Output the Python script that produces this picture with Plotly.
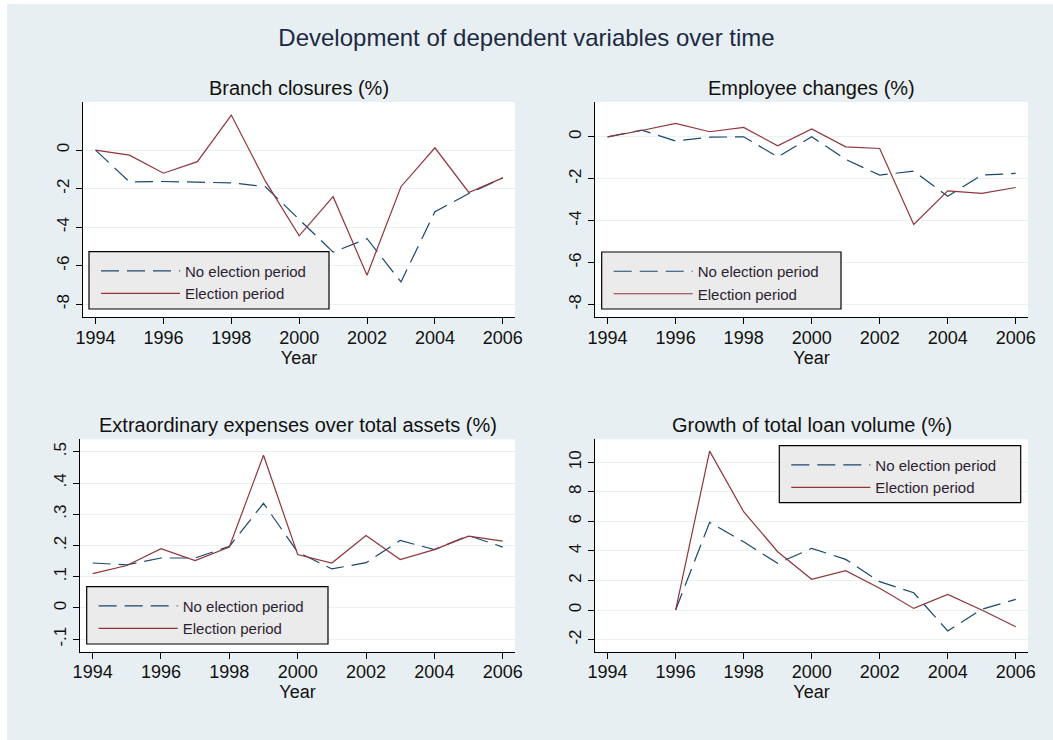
import plotly.graph_objects as go

# ---------------- data ----------------
years = [1994, 1995, 1996, 1997, 1998, 1999, 2000, 2001, 2002, 2003, 2004, 2005, 2006]
x_ticks = [1994, 1996, 1998, 2000, 2002, 2004, 2006]

branch_no = [0, -1.65, -1.63, -1.65, -1.7, -1.9, -3.6, -5.3, -4.6, -6.85, -3.2, -2.25, -1.44]
branch_el = [0, -0.26, -1.2, -0.6, 1.82, -1.6, -4.45, -2.42, -6.5, -1.9, 0.12, -2.2, -1.44]

emp_no = [0, 0.32, -0.2, -0.02, 0, -0.96, 0, -1.08, -1.83, -1.64, -2.84, -1.83, -1.75]
emp_el = [0, 0.3, 0.64, 0.24, 0.45, -0.43, 0.37, -0.48, -0.56, -4.18, -2.58, -2.7, -2.42]

ext_no = [0.144, 0.138, 0.16, 0.16, 0.197, 0.335, 0.179, 0.125, 0.145, 0.216, 0.187, 0.232, 0.195]
ext_el = [0.11, 0.136, 0.19, 0.152, 0.195, 0.489, 0.171, 0.144, 0.232, 0.155, 0.187, 0.23, 0.214]

loan_no = [None, None, 0, 5.94, 4.62, 3.16, 4.18, 3.43, 1.92, 1.17, -1.42, 0.05, 0.72]
loan_el = [None, None, 0, 10.76, 6.66, 3.95, 2.08, 2.66, 1.47, 0.11, 1.06, 0.0, -1.13]

titles = ["Branch closures (%)", "Employee changes (%)",
          "Extraordinary expenses over total assets (%)", "Growth of total loan volume (%)"]
series_names = ["No election period", "Election period"]

y_ticks_1 = [0, -2, -4, -6, -8]
y_ticks_3 = [-0.1, 0, 0.1, 0.2, 0.3, 0.4, 0.5]
y_labels_3 = ["-.1", "0", ".1", ".2", ".3", ".4", ".5"]
y_ticks_4 = [-2, 0, 2, 4, 6, 8, 10]

# ---------------- layout helpers ----------------
W, H = 1053, 740
NAVY = "#1a476f"
MAROON = "#90353b"
BG = "#e8eff2"
FONT = "Liberation Sans, Arial, sans-serif"


def px_x(p):
    return p / W


def px_y(p):
    return 1 - p / H


panels = [
    dict(no=branch_no, el=branch_el, xd=(83, 515), yd=(102, 317), yr=[-8.67, 2.5],
         tv=y_ticks_1, tt=[str(v) for v in y_ticks_1], lg=(89, 329, 251.7, 309)),
    dict(no=emp_no, el=emp_el, xd=(595, 1028), yd=(102, 317), yr=[-8.6, 1.66],
         tv=y_ticks_1, tt=[str(v) for v in y_ticks_1], lg=(601.7, 841, 252, 309)),
    dict(no=ext_no, el=ext_el, xd=(80, 515), yd=(439.3, 651.7), yr=[-0.14, 0.54],
         tv=y_ticks_3, tt=y_labels_3, lg=(86.7, 328, 586.7, 644)),
    dict(no=loan_no, el=loan_el, xd=(595, 1028), yd=(439.3, 651.7), yr=[-2.82, 11.56],
         tv=y_ticks_4, tt=[str(v) for v in y_ticks_4], lg=(779.3, 1020.7, 445.7, 502.7)),
]

fig = go.Figure()
shapes = []
annotations = []
layout = dict()

for i, p in enumerate(panels):
    n = i + 1
    sfx = "" if n == 1 else str(n)
    lgname = "legend" if n == 1 else f"legend{n}"
    xa, ya = f"x{sfx}", f"y{sfx}"
    fig.add_trace(go.Scatter(x=years, y=p["no"], mode="lines", name=series_names[0],
                             line=dict(color=NAVY, width=1.2, dash="18px,8px"),
                             xaxis=xa, yaxis=ya, legend=lgname, connectgaps=False))
    fig.add_trace(go.Scatter(x=years, y=p["el"], mode="lines", name=series_names[1],
                             line=dict(color=MAROON, width=1.2),
                             xaxis=xa, yaxis=ya, legend=lgname, connectgaps=False))

    layout[f"xaxis{sfx}"] = dict(
        domain=[px_x(p["xd"][0]), px_x(p["xd"][1])], anchor=ya,
        range=[1993.63, 2006.36], tickvals=x_ticks, ticks="outside", ticklen=6,
        tickcolor="black", showline=True, linecolor="black", linewidth=1,
        showgrid=False, zeroline=False, fixedrange=True, ticklabelstandoff=-2,
        automargin=False,
        tickfont=dict(size=18, color="#111111", family=FONT),
        title=dict(text="Year", font=dict(size=18, color="#111111", family=FONT), standoff=0),
    )
    layout[f"yaxis{sfx}"] = dict(
        domain=[px_y(p["yd"][1]), px_y(p["yd"][0])], anchor=xa,
        range=p["yr"], tickvals=p["tv"], ticktext=p["tt"], tickangle=-90,
        ticks="outside", ticklen=6, tickcolor="black", showline=True,
        linecolor="black", linewidth=1, showgrid=True, gridcolor="#eaf1f3",
        gridwidth=1, zeroline=False, fixedrange=True, automargin=False,
        tickfont=dict(size=17, color="#111111", family=FONT),
    )

    # subplot title
    annotations.append(dict(text=titles[i], xref="paper", yref="paper",
                            x=px_x((p["xd"][0] + p["xd"][1]) / 2),
                            y=px_y(p["yd"][0] - 14), xanchor="center", yanchor="middle",
                            showarrow=False, font=dict(size=20, color="#111111", family=FONT)))

    # legend box
    x0, x1, y0, y1 = p["lg"]
    shapes.append(dict(type="rect", xref="paper", yref="paper", layer="above",
                       x0=px_x(x0), x1=px_x(x1), y0=px_y(y1), y1=px_y(y0),
                       fillcolor="#ebebeb", line=dict(color="black", width=1.2)))
    layout[lgname] = dict(x=px_x(x0 + 7), y=px_y(y0 + 3), xanchor="left", yanchor="top",
                          bgcolor="rgba(0,0,0,0)", borderwidth=0, itemwidth=79,
                          font=dict(size=15, color="#2d1f33", family=FONT),
                          tracegroupgap=0, itemclick=False, itemdoubleclick=False)

# white strips at the top and left edges
shapes.append(dict(type="rect", xref="paper", yref="paper", layer="below",
                   x0=0, x1=px_x(7), y0=0, y1=1, fillcolor="white", line=dict(width=0)))
shapes.append(dict(type="rect", xref="paper", yref="paper", layer="below",
                   x0=0, x1=1, y0=px_y(4), y1=1, fillcolor="white", line=dict(width=0)))

fig.update_layout(
    width=W, height=H, autosize=False,
    margin=dict(l=0, r=0, t=0, b=0, pad=0),
    paper_bgcolor=BG, plot_bgcolor="white",
    title=dict(text="Development of dependent variables over time", x=0.5, xanchor="center",
               y=1 - 38 / H, yanchor="middle",
               font=dict(size=24, color="#1c2a44", family=FONT)),
    showlegend=True,
    shapes=shapes, annotations=annotations,
    **layout,
)

post = (
    "var de=document.documentElement,b=document.body;"
    "de.style.margin='0';de.style.padding='0';de.style.overflow='hidden';"
    "b.style.margin='0';b.style.padding='0';b.style.overflow='hidden';"
    "b.style.width='1053px';b.style.height='740px';"
)

fig.write_html("out.html", config=dict(displayModeBar=False, responsive=False),
               post_script=post)
